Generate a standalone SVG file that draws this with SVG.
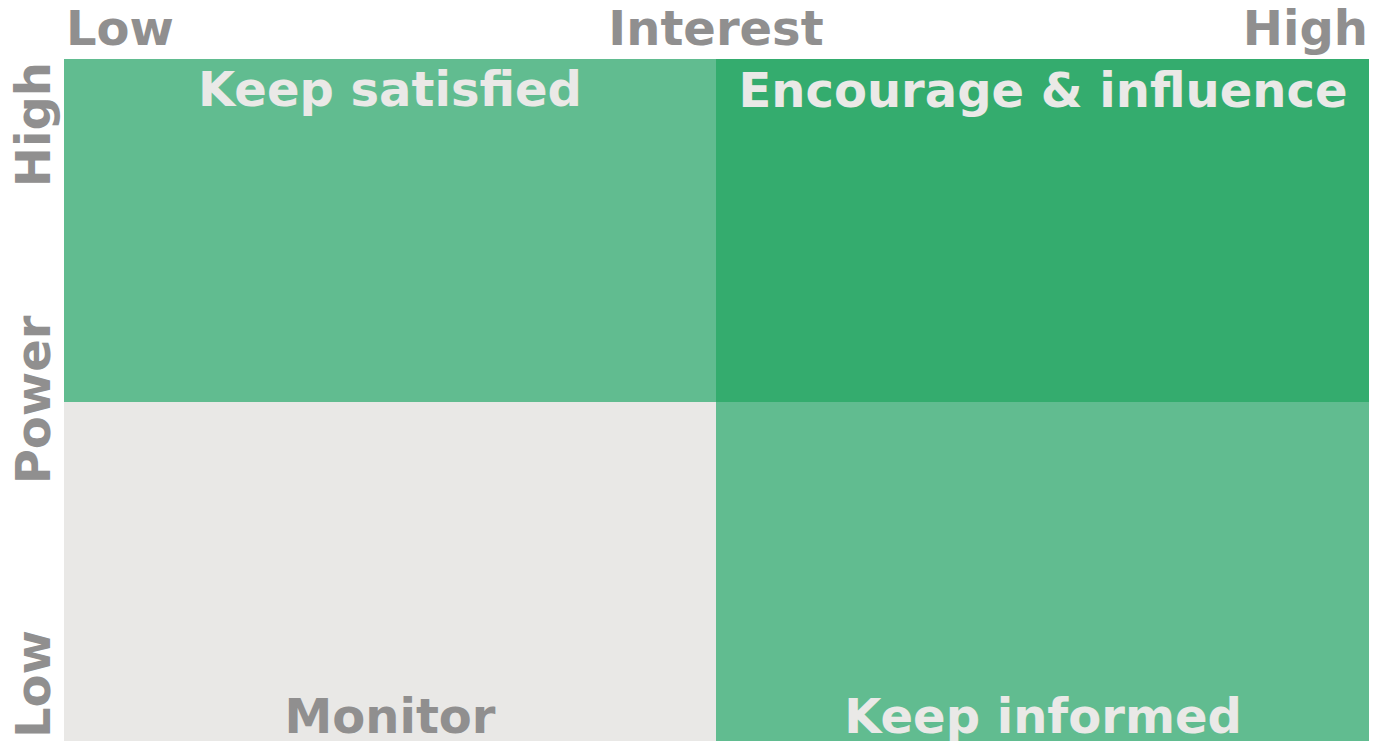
<svg xmlns="http://www.w3.org/2000/svg" width="1391" height="741" viewBox="0 0 1391 741">
<style>
text{font-family:"DejaVu Sans","Verdana",sans-serif;font-weight:bold;font-size:48px}
.ax{fill:#908f8f}
.ql{fill:#eae9e7}
.qd{fill:#908f8f}
</style>
<rect width="1391" height="741" fill="#ffffff"/>
<g id="q-keep-satisfied">
<rect x="64" y="59" width="652" height="343" fill="#61bc90"/>
<text class="ql" x="390" y="106" text-anchor="middle">Keep satisfied</text>
</g>
<g id="q-encourage">
<rect x="716" y="59" width="653" height="343" fill="#34ac6e"/>
<text class="ql" x="1043" y="107" text-anchor="middle">Encourage &amp; influence</text>
</g>
<g id="q-monitor">
<rect x="64" y="402" width="652" height="339" fill="#e9e8e6"/>
<text class="qd" x="390" y="733" text-anchor="middle">Monitor</text>
</g>
<g id="q-keep-informed">
<rect x="716" y="402" width="653" height="339" fill="#61bc90"/>
<text class="ql" x="1043" y="733" text-anchor="middle">Keep informed</text>
</g>
<g id="axis-interest">
<text class="ax" x="66" y="45">Low</text>
<text class="ax" x="716" y="45" text-anchor="middle">Interest</text>
<text class="ax" x="1368" y="45" text-anchor="end">High</text>
</g>
<g id="axis-power">
<text class="ax" transform="translate(50,62) rotate(-90)" text-anchor="end">High</text>
<text class="ax" transform="translate(50,400) rotate(-90)" text-anchor="middle">Power</text>
<text class="ax" transform="translate(50,738) rotate(-90)">Low</text>
</g>
<g id="connectors"></g>
</svg>
